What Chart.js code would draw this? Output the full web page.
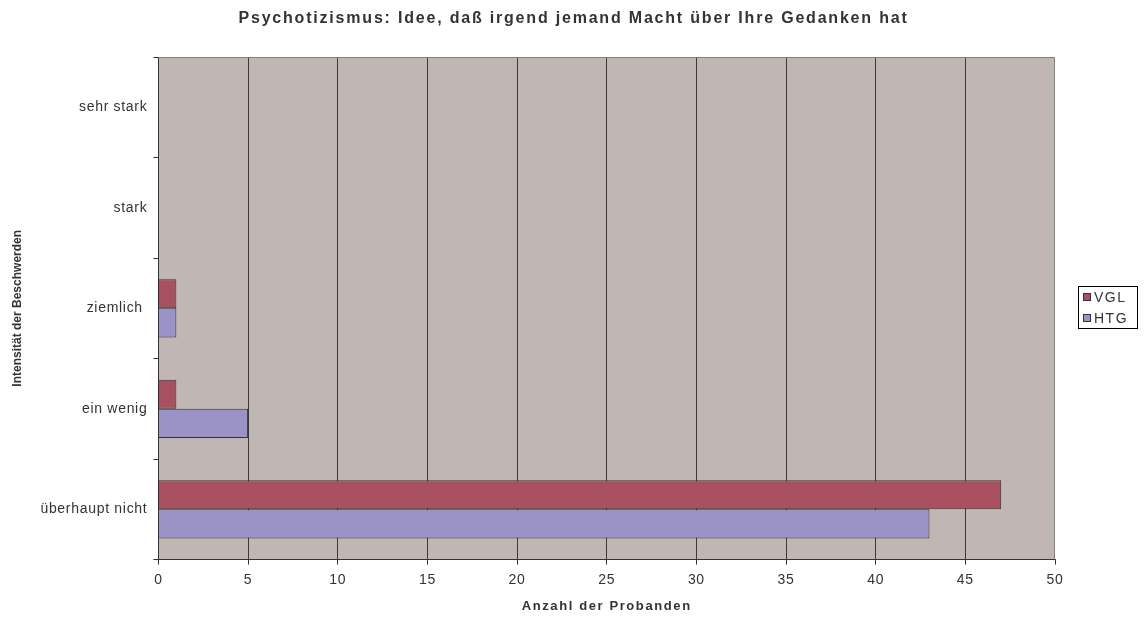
<!DOCTYPE html>
<html lang="de">
<head>
  <meta charset="utf-8">
  <title>Psychotizismus</title>
  <script src="https://cdn.jsdelivr.net/npm/chart.js@4/dist/chart.umd.min.js"></script>
  <style>
    body { margin: 0; background: #fff; }
    #wrap { width: 1147px; height: 617px; }
  </style>
</head>
<body>
  <div id="wrap">
    <canvas id="c" width="1147" height="617"></canvas>
  </div>
  <script>
    var chartTitle = 'Psychotizismus: Idee, daß irgend jemand Macht über Ihre Gedanken hat';
    var categories = ['sehr stark', 'stark', 'ziemlich ', 'ein wenig', 'überhaupt nicht'];
    var vgl = [0, 0, 1, 1, 47];
    var htg = [0, 0, 1, 5, 43];
    var xTicks = [0, 5, 10, 15, 20, 25, 30, 35, 40, 45, 50];

    var fontName = '"Liberation Sans", Arial, sans-serif';

    // the old chart uses wide letter spacing; canvas supports that via ctx.letterSpacing
    function spaced(obj, method, px) {
      var orig = obj[method];
      if (!orig || orig._spaced) return;
      var f = function () {
        var c = this.ctx, prev = c.letterSpacing;
        c.letterSpacing = px;
        orig.apply(this, arguments);
        c.letterSpacing = prev;
      };
      f._spaced = true;
      obj[method] = f;
    }

    var plotDeco = {
      id: 'plotDeco',
      beforeUpdate: function (chart) { chart.ctx.letterSpacing = '0.7px'; },
      afterLayout: function (chart) {
        spaced(chart.scales.x, 'drawTitle', '1.6px');
        spaced(chart.scales.y, 'drawTitle', '0px');
      },
      beforeDraw: function (chart) {
        var a = chart.chartArea, g = chart.ctx;
        g.letterSpacing = '0.7px';
        g.save();
        g.fillStyle = '#c0b7b4';
        g.fillRect(a.left, a.top, a.right - a.left, a.bottom - a.top);
        g.restore();
      },
      afterDraw: function (chart) {
        var a = chart.chartArea, g = chart.ctx;
        g.save();
        g.strokeStyle = '#808080';
        g.lineWidth = 1;
        g.beginPath();
        g.moveTo(a.left, a.top + 0.5);
        g.lineTo(a.right - 0.5, a.top + 0.5);
        g.lineTo(a.right - 0.5, a.bottom);
        g.stroke();

        // title, centred over the whole picture
        g.font = 'bold 16px ' + fontName;
        g.letterSpacing = '1.8px';
        g.fillStyle = '#333';
        g.textAlign = 'left';
        g.textBaseline = 'alphabetic';
        var tw = g.measureText(chartTitle).width;
        g.fillText(chartTitle, chart.width / 2 - tw / 2, 23);

        // boxed legend at the right
        var lx = 1078, ly = 286, lw = 59, lh = 42;
        g.strokeStyle = '#000';
        g.strokeRect(lx + 0.5, ly + 0.5, lw, lh);
        g.font = '14px ' + fontName;
        g.letterSpacing = '1.5px';
        g.textBaseline = 'middle';
        chart.data.datasets.forEach(function (ds, i) {
          var cy = ly + 11 + i * 21;
          g.fillStyle = ds.backgroundColor;
          g.fillRect(lx + 5, cy - 4, 8, 8);
          g.strokeStyle = '#333';
          g.strokeRect(lx + 5.5, cy - 3.5, 7, 7);
          g.fillStyle = '#333';
          g.fillText(ds.label, lx + 16, cy + 1);
        });
        g.restore();
      }
    };

    new Chart(document.getElementById('c'), {
      type: 'bar',
      data: {
        labels: categories,
        datasets: [
          { label: 'VGL', data: vgl, backgroundColor: '#a8505f', borderColor: '#333', borderWidth: 1, borderSkipped: 'left' },
          { label: 'HTG', data: htg, backgroundColor: '#9b93c8', borderColor: '#333', borderWidth: 1, borderSkipped: 'left' }
        ]
      },
      options: {
        indexAxis: 'y',
        responsive: false,
        animation: false,
        layout: { padding: { left: 6, right: 92, top: 57, bottom: 0 } },
        datasets: { bar: { categoryPercentage: 0.58, barPercentage: 1 } },
        scales: {
          x: {
            min: 0, max: 50,
            afterBuildTicks: function (s) { s.ticks = xTicks.map(function (v) { return { value: v }; }); },
            grid: {
              color: function (c) { return c.tick && c.tick.value === 50 ? 'rgba(0,0,0,0)' : '#3a3a3a'; },
              drawTicks: true, tickLength: 5, tickColor: '#333'
            },
            border: { color: '#333' },
            ticks: { color: '#333', font: { size: 14, family: fontName }, padding: 7 },
            title: { display: true, text: 'Anzahl der Probanden', color: '#333', font: { size: 13, weight: 'bold', family: fontName }, padding: { top: 3, bottom: 3 } }
          },
          y: {
            offset: true,
            grid: { offset: true, drawOnChartArea: false, drawTicks: true, tickLength: 5, tickColor: '#333' },
            border: { color: '#333' },
            ticks: { color: '#333', font: { size: 14, family: fontName }, padding: 6 },
            title: { display: true, text: 'Intensität der Beschwerden', color: '#333', font: { size: 12, weight: 'bold', family: fontName }, padding: { top: 4, bottom: 10 } }
          }
        },
        plugins: {
          legend: { display: false },
          tooltip: { enabled: false },
          title: { display: false }
        }
      },
      plugins: [plotDeco]
    });
  </script>
</body>
</html>
